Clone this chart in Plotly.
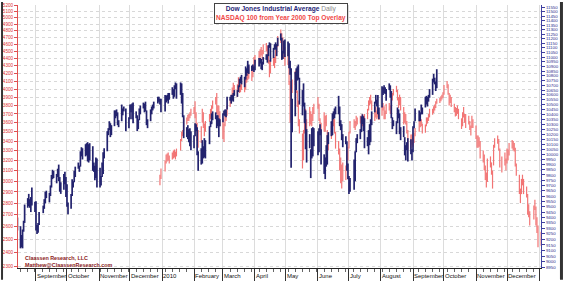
import plotly.graph_objects as go
import pandas as pd
import math

# ---------------- DATA ----------------
# DJIA daily high / low, trading days from 2009-08-14 to 2010-09-24
dji_hi = [9400,9320,9240,9290,9370,9520,9580,9620,9570,9590,9680,9545,
          9550,9330,9350,9450,9510,9570,9640,9650,9630,9700,9800,9850,9840,9810,9860,9900,9780,9730,9810,9830,9780,
          9710,9540,9620,9760,9740,9840,9880,9920,9890,10030,10070,10060,10100,10110,10120,10100,10110,10080,9920,9890,9970,9960,
          9870,9790,9920,10020,10060,10230,10260,10330,10310,10290,10440,10440,10450,10420,10340,10500,10460,10480,10460,10370,
          10500,10500,10510,10520,10430,10390,10350,10460,10490,10520,10510,10530,10440,10350,10450,10480,10500,10530,10580,10580,10560,10560,
          10600,10590,10600,10620,10620,10680,10660,10700,10730,10720,10730,10720,10620,10390,10270,10290,10250,10260,10230,
          10190,10310,10300,10270,10030,10060,10140,10080,10160,10140,10280,10330,10410,10430,10420,10390,10390,10360,10350,
          10410,10440,10450,10450,10580,10580,10600,10600,10620,10650,10650,10700,10770,10790,10810,10790,10900,10880,10960,10920,10910,10920,10900,
          10970,10990,10990,10980,10950,11000,11030,11030,11130,11160,11150,11100,11140,11160,11140,11210,11258,11210,11070,11180,11190,
          11170,11150,10960,10880,10560,10840,10880,10900,10920,10780,10650,10720,10520,10440,10250,10200,10050,10260,10270,10260,
          10230,10260,10300,10250,10000,9970,10090,10190,10220,10330,10410,10430,10460,10480,10590,10480,10340,10300,10200,10180,10130,9910,
          9790,9770,9950,10030,10160,10200,10250,10380,10400,10380,10360,10170,10240,10300,10350,10430,10530,10600,10550,10600,10470,
          10690,10680,10700,10680,10660,10720,10700,10640,10370,10340,10330,10470,10450,10410,10270,10280,10170,10090,10120,10160,10150,10050,
          10280,10330,10460,10440,10420,10500,10470,10580,10590,10580,10600,10660,10770,10820,10780,10740,10870]
dji_lo = [9280,9120,9130,9120,9270,9350,9490,9505,9490,9450,9510,9450,
          9280,9250,9260,9330,9440,9480,9530,9580,9540,9600,9680,9760,9770,9720,9780,9740,9640,9620,9660,9710,9590,
          9500,9430,9480,9600,9680,9730,9780,9860,9830,9880,9980,9950,9980,9990,9930,9920,9940,9840,9830,9750,9770,9680,
          9680,9700,9780,9810,9960,10030,10190,10240,10170,10190,10280,10360,10380,10290,10270,10330,10390,10430,10230,10260,
          10350,10420,10350,10310,10360,10230,10250,10340,10400,10460,10420,10430,10290,10260,10330,10400,10440,10460,10510,10530,10500,10420,
          10430,10520,10540,10510,10550,10600,10560,10580,10660,10560,10600,10510,10370,10160,10170,10150,10120,10080,10040,
          10060,10180,10230,9990,9840,9900,9910,9960,9970,9960,10100,10270,10300,10340,10350,10260,10280,10170,10280,
          10320,10390,10380,10370,10450,10540,10510,10540,10530,10590,10580,10630,10680,10720,10710,10680,10760,10800,10830,10820,10850,10860,10840,
          10860,10900,10930,10870,10860,10920,10970,10940,11010,11100,10950,10990,11080,11080,11010,11120,11180,10970,10980,11040,11000,
          11010,10880,10810,9870,10220,10380,10650,10750,10760,10500,10390,10480,10310,10050,9920,10060,9770,9960,9980,10080,
          9990,10020,10190,9900,9810,9760,9880,9900,10100,10180,10190,10350,10360,10400,10400,10280,10240,10140,10070,10100,9840,9760,
          9620,9640,9660,9740,10020,10110,10150,10220,10300,10230,10060,10080,10000,10090,10120,10290,10420,10510,10480,10400,10350,
          10470,10600,10620,10610,10540,10650,10570,10360,10250,10280,10200,10310,10360,10200,10140,10170,9990,9940,10040,9930,10000,9940,
          10020,10260,10330,10330,10330,10400,10400,10470,10500,10480,10530,10570,10600,10730,10710,10640,10670]
dji_start = "2009-08-14"

# NASDAQ 100 daily high / low, Dec 1 1999 .. Dec 1 2000, overlaid so that the
# March 24 2000 top falls on the DJIA's April 26 2010 top (trading-day aligned)
ndx_hi = [3060,3120,3200,3260,3270,3280,3250,3280,3300,3310,3290,3320,3420,3500,3520,3650,3660,3690,3700,3720,3760,3780,
          3850,3720,3600,3520,3560,3760,3720,3590,3620,3700,3760,3800,3860,3900,3950,3800,3800,3730,3650,3590,
          3680,3720,3800,3880,3930,4020,4080,4050,4060,4150,4100,4060,4100,4080,4150,4220,4250,4290,4250,4300,
          4420,4450,4500,4530,4560,4520,4600,4620,4580,4520,4380,4400,4450,4420,4520,4600,4720,4816,4760,4700,4620,4560,4520,
          4350,4100,4050,4120,4230,4250,3980,3860,3640,3480,3520,3700,3760,3640,3780,3730,3700,3780,3820,
          3900,3820,3650,3600,3720,3680,3690,3520,3480,3560,3620,3700,3640,3500,3400,3320,3230,3160,3180,3150,3300,3340,
          3500,3620,3640,3620,3680,3660,3680,3620,3700,3680,3700,3760,3860,3900,3930,3860,3760,3780,3740,3760,3720,3790,
          3830,3790,3740,3820,3830,3800,3900,3950,4000,4040,3990,3900,3930,3900,3780,3720,3700,3620,3520,3470,
          3470,3430,3490,3540,3620,3630,3640,3590,3580,3660,3660,3700,3760,3760,3790,3810,3850,3880,3890,3910,3930,3960,4050,
          4100,4060,3950,3930,3900,3820,3780,3770,3800,3760,3650,3720,3780,3700,3700,3680,3620,3570,3680,3640,
          3570,3460,3460,3440,3400,3300,3260,3150,3080,3220,3240,3180,3100,3360,3430,3460,3420,3320,3240,3280,3220,3320,
          3310,3380,3410,3400,3380,3330,3170,3060,2930,3020,3060,3020,2950,2880,2790,2730,2780,2830,2770,2680,2610,
          2560]
ndx_lo = [2960,3020,3090,3170,3190,3200,3170,3210,3220,3230,3210,3240,3300,3400,3450,3510,3580,3620,3620,3650,3680,3700,
          3650,3530,3400,3330,3380,3600,3540,3450,3500,3610,3640,3690,3760,3810,3700,3660,3640,3560,3420,3390,
          3560,3620,3680,3780,3820,3900,3950,3930,3900,3990,3950,3960,3990,3960,3990,4080,4110,4130,4100,4150,
          4260,4330,4380,4410,4440,4380,4460,4500,4420,4330,4150,4200,4300,4270,4340,4480,4560,4620,4620,4520,4400,4300,4310,
          4050,3600,3850,3950,4050,3950,3780,3560,3480,3120,3200,3480,3580,3520,3560,3580,3560,3620,3700,
          3760,3620,3520,3480,3500,3500,3560,3320,3300,3420,3460,3560,3480,3320,3260,3100,2980,2930,3000,3010,3100,3200,
          3320,3480,3540,3520,3560,3580,3590,3520,3560,3580,3600,3640,3740,3800,3820,3740,3620,3660,3640,3660,3630,3680,
          3740,3640,3640,3700,3740,3700,3760,3860,3920,3960,3860,3770,3800,3740,3580,3600,3580,3480,3310,3320,
          3360,3340,3380,3450,3500,3550,3560,3480,3490,3560,3590,3620,3660,3690,3710,3740,3770,3820,3830,3850,3870,3890,3930,
          4010,3930,3800,3830,3780,3720,3670,3680,3700,3640,3530,3560,3660,3600,3540,3580,3520,3460,3540,3540,
          3420,3330,3330,3340,3220,3180,3100,3010,2940,2990,3130,3060,2930,3150,3330,3370,3300,3130,3080,3150,3100,3170,
          3200,3250,3320,3300,3290,3140,3050,2880,2800,2880,2960,2880,2850,2700,2680,2610,2660,2740,2610,2550,2440,
          2450]
ndx_start = "2009-12-30"

nyse_holidays = ["2009-09-07","2009-11-26","2009-12-25","2010-01-01","2010-01-18",
                 "2010-02-15","2010-04-02","2010-05-31","2010-07-05","2010-09-06",
                 "2010-11-25","2010-12-24"]

month_ticks = ["2009-09-01","2009-10-01","2009-11-01","2009-12-01","2010-01-01","2010-02-01","2010-03-01",
               "2010-04-01","2010-05-01","2010-06-01","2010-07-01","2010-08-01","2010-09-01","2010-10-01",
               "2010-11-01","2010-12-01","2011-01-01"]
month_labels = ["September","October","November","December","2010","February","March","April","May",
                "June","July","August","September","October","November","December",""]

left_ticks = list(range(2300, 5300, 100))
right_ticks = list(range(8950, 11600, 50))

# ---------------- FIGURE ----------------
W, H = 563, 283
ML, MR, MT, MB = 17, 22, 3, 12
PW, PH = W - ML - MR, H - MT - MB

dji_dates = pd.bdate_range(dji_start, periods=len(dji_hi), freq="C", holidays=nyse_holidays)
ndx_dates = pd.bdate_range(ndx_start, periods=len(ndx_hi), freq="C", holidays=nyse_holidays)

def segs(dates, lo, hi):
    xs, ys = [], []
    for d, l, h in zip(dates, lo, hi):
        xs += [d, d, None]
        ys += [l, h, None]
    return xs, ys

fig = go.Figure()
rx, ry = segs(ndx_dates, ndx_lo, ndx_hi)
fig.add_trace(go.Scatter(x=rx, y=ry, mode="lines", line=dict(color="#f27474", width=1.2),
                         yaxis="y", hoverinfo="skip", showlegend=False))
bx, by = segs(dji_dates, dji_lo, dji_hi)
fig.add_trace(go.Scatter(x=bx, y=by, mode="lines", line=dict(color="#23236e", width=1.7),
                         yaxis="y2", hoverinfo="skip", showlegend=False))

def lg(v):
    return math.log10(v)

fig.update_layout(
    width=W, height=H, margin=dict(l=ML, r=MR, t=MT, b=MB),
    paper_bgcolor="white", plot_bgcolor="white",
    font=dict(family="Liberation Sans, Arial, sans-serif"),
    xaxis=dict(type="date", range=["2009-08-14 14:00", "2011-01-02 22:00"],
               tickvals=month_ticks, ticktext=month_labels, tickangle=0,
               ticks="outside", ticklen=12, tickcolor="#333", tickwidth=1,
               ticklabelposition="outside right", ticklabelstandoff=2,
               tickfont=dict(size=6, color="#111"),
               showgrid=True, gridcolor="#dcdcdc", gridwidth=1,
               showline=True, linecolor="#222", linewidth=1,
               minor=dict(ticks="outside", ticklen=3, tickcolor="#666",
                          dtick=7 * 86400000, tick0="2009-08-17", showgrid=False),
               zeroline=False),
    yaxis=dict(type="log", range=[lg(2286), lg(5201)],
               tickvals=left_ticks, ticktext=[str(v) for v in left_ticks],
               tickfont=dict(size=4.6, color="#e03030"),
               ticks="outside", ticklen=3, tickcolor="#e05050",
               showline=True, linecolor="#e05050", linewidth=1,
               showgrid=True, gridcolor="#d8d8d8", griddash="dot", gridwidth=1,
               zeroline=False),
    yaxis2=dict(type="log", range=[lg(8946), lg(11576)], overlaying="y", side="right",
                tickvals=right_ticks, ticktext=[str(v) for v in right_ticks],
                tickfont=dict(size=4.4, color="#2a2a8a"),
                ticks="outside", ticklen=3, tickcolor="#4040a0",
                showline=True, linecolor="#4040a0", linewidth=1,
                showgrid=False, zeroline=False),
)

fig.add_annotation(
    xref="paper", yref="paper", x=(281 - ML) / PW, y=1 - (1 - MT) / PH, xanchor="center", yanchor="top",
    text="<b><span style='color:#1f1f78'>Dow Jones Industrial Average</span></b> <span style='color:#888'>Daily</span>"
         "<br><b><span style='color:#f04848'>NASDAQ 100 from Year 2000 Top Overlay</span></b>",
    showarrow=False, font=dict(size=6.6), align="center",
    bgcolor="white", bordercolor="#444", borderwidth=1, borderpad=1)

fig.add_annotation(
    xref="paper", yref="paper", x=(22 - ML) / PW, y=1 - (256 - MT) / PH, xanchor="left", yanchor="top",
    text="<b>Claassen Research, LLC<br>Matthew@ClaassenResearch.com</b>",
    showarrow=False, font=dict(size=5.4, color="#8b1a1a"), align="left")

fig.add_shape(type="rect", xref="paper", yref="paper", x0=-ML / PW, x1=(2 - ML) / PW,
              y0=-MB / PH, y1=1 + MT / PH, fillcolor="#333", line=dict(width=0))
fig.add_shape(type="rect", xref="paper", yref="paper", x0=(560 - ML) / PW, x1=(563 - ML) / PW,
              y0=-MB / PH, y1=1 + MT / PH, fillcolor="#333", line=dict(width=0))

fig.write_html("out.html")
